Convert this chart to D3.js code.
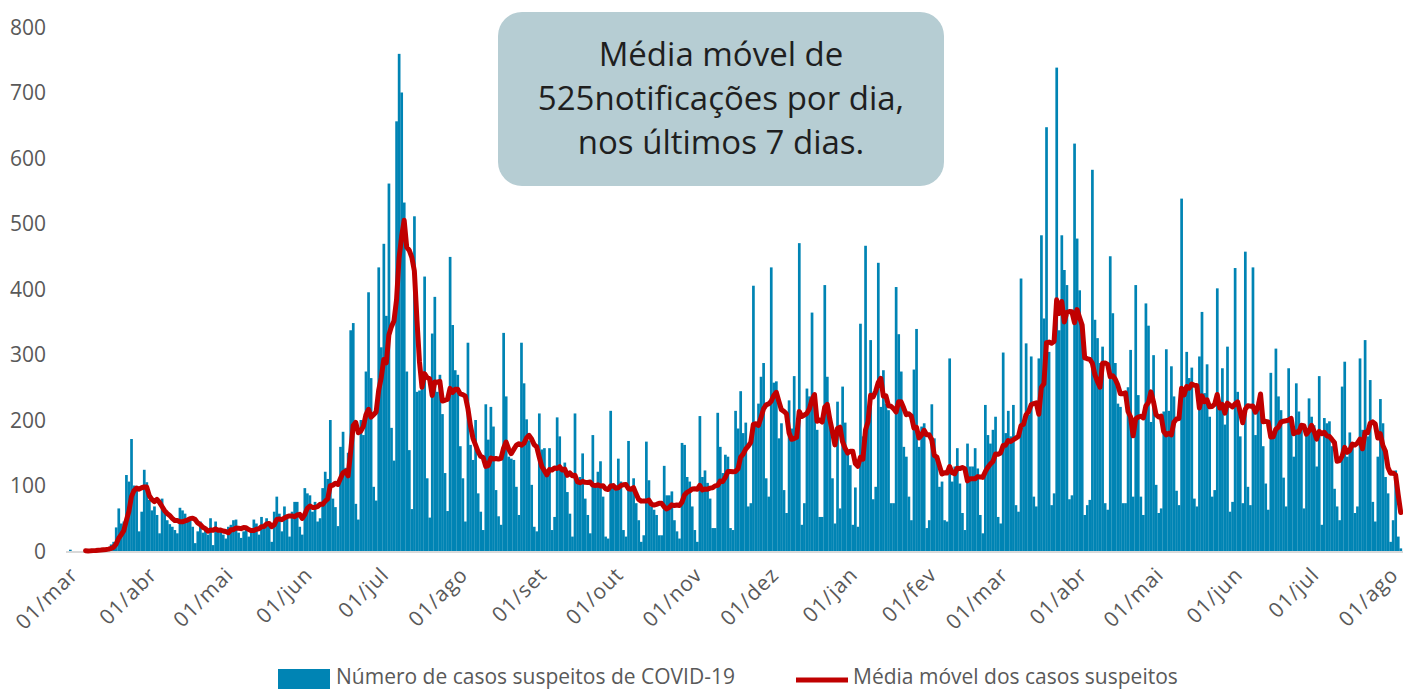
<!DOCTYPE html>
<html lang="pt">
<head>
<meta charset="utf-8">
<title>Casos suspeitos de COVID-19</title>
<script src="https://cdn.jsdelivr.net/npm/d3@7"></script>
<style>
  body { margin: 0; background: #fff; }
  svg { display: block; }
</style>
</head>
<body>
<script>

// daily notifications, one row per week, starting 01/03/2020
var startDate = "2020-03-01";
var dailyCases = [
  2, 0, 0, 0, 0, 0, 1,
  0, 1, 2, 1, 3, 2, 4,
  3, 5, 10, 14, 36, 65, 42,
  45, 116, 106, 171, 100, 93, 30,
  60, 124, 105, 78, 62, 68, 55,
  27, 80, 62, 47, 41, 37, 32,
  27, 66, 62, 57, 50, 52, 37,
  12, 30, 45, 28, 35, 25, 50,
  9, 45, 30, 30, 25, 19, 37,
  40, 47, 48, 28, 20, 30, 35,
  22, 35, 48, 42, 25, 52, 37,
  50, 41, 14, 60, 83, 57, 30,
  68, 55, 22, 60, 75, 75, 37,
  25, 96, 88, 85, 60, 75, 45,
  50, 96, 121, 110, 200, 80, 67,
  38, 159, 182, 127, 150, 337, 348,
  72, 48, 200, 177, 274, 395, 264,
  98, 77, 433, 311, 469, 359, 561,
  188, 138, 656, 759, 700, 532, 274,
  154, 64, 511, 243, 245, 260, 419,
  111, 51, 332, 388, 243, 269, 209,
  119, 61, 449, 345, 276, 269, 160,
  111, 45, 318, 162, 139, 200, 88,
  60, 32, 224, 170, 220, 190, 93,
  53, 40, 333, 236, 144, 141, 139,
  98, 55, 318, 256, 201, 169, 101,
  37, 30, 210, 155, 157, 124, 157,
  32, 52, 204, 175, 121, 135, 90,
  57, 22, 210, 103, 113, 149, 80,
  55, 27, 177, 98, 121, 137, 83,
  22, 19, 214, 103, 93, 141, 106,
  32, 22, 168, 98, 111, 73, 47,
  14, 24, 167, 108, 68, 63, 55,
  24, 24, 130, 85, 85, 91, 47,
  30, 19, 165, 162, 113, 106, 68,
  32, 14, 206, 113, 123, 104, 80,
  35, 35, 211, 159, 119, 147, 144,
  35, 32, 214, 187, 244, 180, 196,
  68, 73, 405, 195, 225, 266, 287,
  111, 83, 433, 257, 259, 172, 195,
  93, 58, 230, 187, 267, 186, 470,
  40, 73, 248, 236, 364, 241, 185,
  52, 52, 406, 266, 205, 111, 42,
  228, 65, 251, 196, 154, 131, 40,
  97, 37, 347, 175, 466, 220, 322,
  79, 98, 440, 220, 276, 225, 215,
  73, 73, 403, 331, 274, 159, 144,
  83, 47, 277, 339, 159, 190, 195,
  35, 47, 224, 172, 141, 98, 106,
  47, 45, 294, 106, 129, 157, 103,
  58, 32, 164, 129, 129, 157, 126,
  55, 27, 223, 177, 164, 185, 205,
  52, 42, 303, 180, 214, 175, 223,
  70, 60, 416, 195, 317, 208, 297,
  83, 68, 294, 482, 355, 647, 304,
  70, 88, 738, 337, 482, 429, 406,
  79, 85, 622, 477, 398, 348, 55,
  70, 78, 582, 353, 325, 287, 312,
  73, 63, 450, 363, 287, 225, 220,
  73, 73, 250, 307, 83, 406, 238,
  83, 55, 378, 344, 197, 299, 101,
  58, 65, 213, 308, 214, 282, 236,
  92, 70, 538, 236, 304, 264, 280,
  80, 68, 297, 365, 241, 285, 205,
  83, 93, 401, 220, 279, 193, 312,
  60, 75, 432, 243, 175, 73, 457,
  98, 70, 433, 177, 228, 215, 160,
  103, 63, 272, 180, 309, 236, 215,
  112, 68, 279, 198, 144, 256, 213,
  185, 65, 187, 233, 205, 192, 129,
  267, 40, 203, 195, 198, 160, 95,
  68, 47, 251, 289, 144, 181, 162,
  58, 68, 294, 185, 322, 175, 261,
  75, 45, 144, 232, 195, 113, 88,
  14, 47, 123, 22, 4
];

var tickDates = ["2020-03-01", "2020-04-01", "2020-05-01", "2020-06-01", "2020-07-01",
  "2020-08-01", "2020-09-01", "2020-10-01", "2020-11-01", "2020-12-01", "2021-01-01",
  "2021-02-01", "2021-03-01", "2021-04-01", "2021-05-01", "2021-06-01", "2021-07-01",
  "2021-08-01"];
var tickLabels = ["01/mar", "01/abr", "01/mai", "01/jun", "01/jul", "01/ago", "01/set",
  "01/out", "01/nov", "01/dez", "01/jan", "01/fev", "01/mar", "01/abr", "01/mai",
  "01/jun", "01/jul", "01/ago"];
var yTicks = [0, 100, 200, 300, 400, 500, 600, 700, 800];

var titleLines = ["Média móvel de", "525notificações por dia,", "nos últimos 7 dias."];
var legendBars = "Número de casos suspeitos de COVID-19";
var legendLine = "Média móvel dos casos suspeitos";

var w = 1403;
var h = 689;
var barColor = "#0084b4";
var lineColor = "#c00000";
var textColor = "#595959";

var parseDate = d3.timeParse("%Y-%m-%d");
var start = parseDate(startDate);

// 7-day trailing average of the daily values (starts on the 7th day)
var movingAvg = dailyCases.map(function (d, i) {
  return i < 6 ? null : d3.mean(dailyCases.slice(i - 6, i + 1));
});

var svg = d3.select("body")
  .append("svg")
    .attr("width", w)
    .attr("height", h)
    .style("font-family", "'Open Sans', sans-serif");

svg.append("rect")
  .attr("width", w)
  .attr("height", h)
  .attr("fill", "#fff");

var xScale = d3.scaleBand()
  .domain(d3.range(dailyCases.length))
  .range([69, 1402])
  .paddingInner(0);

var yScale = d3.scaleLinear()
  .domain([0, 800])
  .range([551, 27]);

// y axis labels only, no line, no grid
svg.append("g")
  .selectAll("text")
  .data(yTicks)
  .enter().append("text")
    .attr("x", 46)
    .attr("y", d => yScale(d))
    .attr("dy", "0.36em")
    .attr("text-anchor", "end")
    .attr("font-size", 21)
    .attr("fill", textColor)
    .text(d => d);

// bars
svg.append("g")
  .selectAll("rect")
  .data(dailyCases)
  .enter().append("rect")
    .attr("x", (d, i) => xScale(i))
    .attr("y", d => yScale(d))
    .attr("width", xScale.bandwidth() + 0.15)
    .attr("height", d => yScale(0) - yScale(d))
    .attr("fill", barColor);

// baseline
svg.append("line")
  .attr("x1", 66)
  .attr("x2", 1403)
  .attr("y1", yScale(0) + 1)
  .attr("y2", yScale(0) + 1)
  .attr("stroke", "#d9d9d9")
  .attr("stroke-width", 2);

// moving average
var line = d3.line()
  .defined(d => d != null)
  .x((d, i) => xScale(i) + xScale.bandwidth() / 2)
  .y(d => yScale(d));

svg.append("path")
  .datum(movingAvg)
  .attr("d", line)
  .attr("fill", "none")
  .attr("stroke", lineColor)
  .attr("stroke-width", 5)
  .attr("stroke-linejoin", "round")
  .attr("stroke-linecap", "round");

// x tick labels, rotated
svg.append("g")
  .selectAll("text")
  .data(tickDates)
  .enter().append("text")
    .attr("transform", function (d) {
      var i = d3.timeDay.count(start, parseDate(d));
      var tx = xScale(i) + xScale.bandwidth() / 2 + 9;
      return "translate(" + tx + ",576) rotate(-45)";
    })
    .attr("text-anchor", "end")
    .attr("font-size", 21)
    .attr("letter-spacing", 1)
    .attr("fill", textColor)
    .text((d, i) => tickLabels[i]);

// annotation box
var box = svg.append("g");
box.append("rect")
  .attr("x", 498)
  .attr("y", 12)
  .attr("width", 446)
  .attr("height", 174)
  .attr("rx", 24)
  .attr("fill", "#b6cdd3");
box.selectAll("text")
  .data(titleLines)
  .enter().append("text")
    .attr("x", 721)
    .attr("y", (d, i) => 66 + i * 44)
    .attr("text-anchor", "middle")
    .attr("font-size", 33)
    .attr("fill", "#1f1f1f")
    .text(d => d);

// legend
var legend = svg.append("g").attr("font-size", 21).attr("fill", textColor);
legend.append("rect")
  .attr("x", 278)
  .attr("y", 669)
  .attr("width", 52)
  .attr("height", 22)
  .attr("fill", barColor);
legend.append("text")
  .attr("x", 336)
  .attr("y", 684)
  .text(legendBars);
legend.append("line")
  .attr("x1", 796)
  .attr("x2", 848)
  .attr("y1", 680)
  .attr("y2", 680)
  .attr("stroke", lineColor)
  .attr("stroke-width", 5);
legend.append("text")
  .attr("x", 853)
  .attr("y", 684)
  .text(legendLine);

</script>
</body>
</html>
